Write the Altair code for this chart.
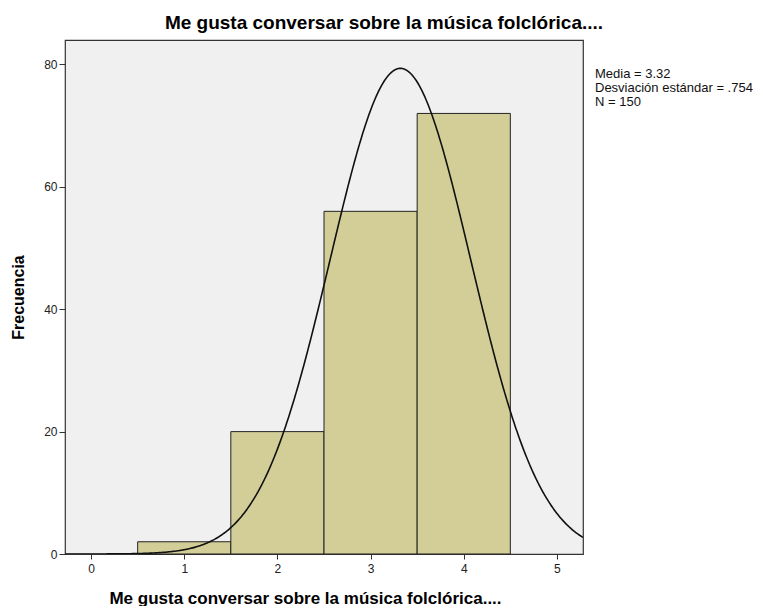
import altair as alt
import pandas as pd

# Data
categories = [1, 2, 3, 4]
counts = [2, 20, 56, 72]
mean_val = 3.32
sd_val = 0.754
n_val = 150
stats_lines = ["Media = 3.32", "Desviación estándar = .754", "N = 150"]
x_ticks = [0, 1, 2, 3, 4, 5]
y_ticks = [0, 20, 40, 60, 80]
title_text = "Me gusta conversar sobre la música folclórica...."

X_DOMAIN = [-0.28, 5.28]
Y_DOMAIN = [0, 84]
FONT = "Liberation Sans"

df = pd.DataFrame({"cat": categories, "count": counts})

x_scale = alt.Scale(domain=X_DOMAIN, nice=False, zero=False)
y_scale = alt.Scale(domain=Y_DOMAIN, nice=False)

bars = alt.Chart(df).transform_calculate(
    lo="datum.cat - 0.5", hi="datum.cat + 0.5"
).mark_rect(color="#D3CE97", stroke="#222222", strokeWidth=1).encode(
    x=alt.X("lo:Q", scale=x_scale,
            axis=alt.Axis(values=x_ticks, format="d", title=title_text, grid=False,
                          tickSize=5, labelPadding=4, titlePadding=16,
                          domain=False, tickColor="#333", labelColor="#222",
                          labelFont=FONT, labelFontSize=12,
                          titleFont=FONT, titleFontSize=17, titleFontWeight="bold",
                          titleColor="#000", titleX=240)),
    x2="hi:Q",
    y=alt.Y("count:Q", scale=y_scale,
            axis=alt.Axis(values=y_ticks, format="d", title="Frecuencia", grid=False,
                          tickSize=6, labelPadding=2, titlePadding=17,
                          domain=False, tickColor="#333", labelColor="#222",
                          labelFont=FONT, labelFontSize=12,
                          titleFont=FONT, titleFontSize=16, titleFontWeight="bold",
                          titleColor="#000")),
    y2=alt.Y2(datum=0),
)

bin_width = 1
curve = alt.Chart(alt.sequence(X_DOMAIN[0], X_DOMAIN[1] + 0.005, 0.01, as_="xv")).transform_calculate(
    yv=f"{n_val}*{bin_width}*exp(-0.5*pow((datum.xv-{mean_val})/{sd_val},2))/({sd_val}*sqrt(2*PI))"
).mark_line(color="#111111", strokeWidth=1.6, clip=True).encode(
    x=alt.X("xv:Q", scale=x_scale),
    y=alt.Y("yv:Q", scale=y_scale),
)

stats = alt.Chart(pd.DataFrame({"a": [0]})).mark_text(
    align="left", baseline="top", font=FONT, fontSize=13, lineHeight=14, color="#111"
).encode(
    x=alt.value(530), y=alt.value(28), text=alt.value(stats_lines)
)

chart = alt.layer(bars, curve, stats).properties(
    width=518, height=514,
    background="white",
    title=alt.TitleParams(title_text, font=FONT, fontSize=19, fontWeight="bold",
                          color="#000", anchor="middle", frame="group", dx=60, offset=7),
    autosize=alt.AutoSizeParams(type="none"),
    padding={"left": 57, "top": 32, "right": 170, "bottom": 52},
).configure_view(fill="#F0F0F0", stroke="#333333", strokeWidth=1.2)

chart.save("out.html", embed_options={"renderer": "svg", "actions": False})
